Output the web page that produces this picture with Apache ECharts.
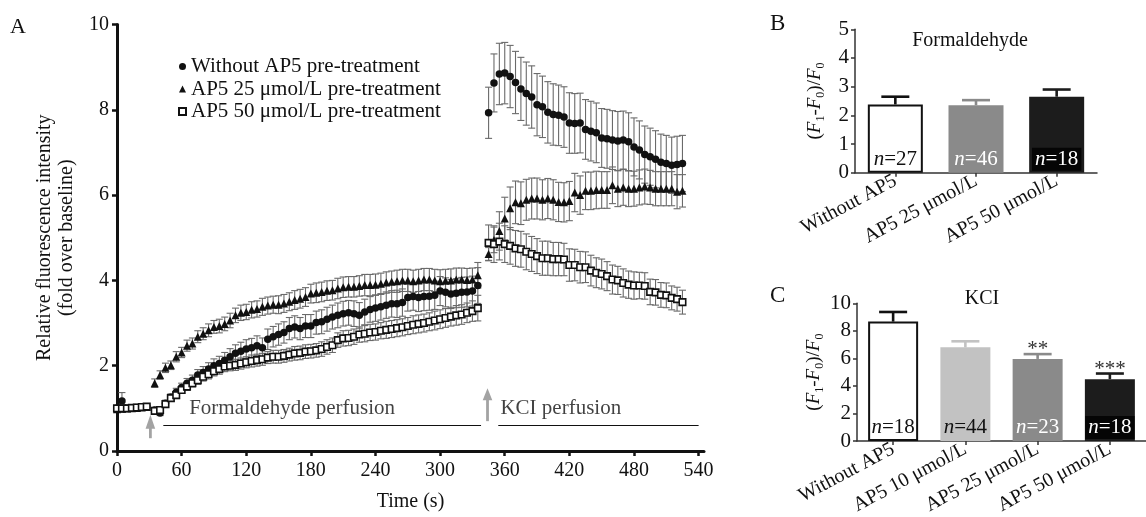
<!DOCTYPE html>
<html><head><meta charset="utf-8">
<script src="https://cdn.jsdelivr.net/npm/echarts@6/dist/echarts.min.js"></script>
<style>html,body{margin:0;padding:0;background:#fff}#c{width:1146px;height:517px}</style>
</head><body><div id="c"></div><script>
// ---------------- DATA ----------------
const baselineTime = [0, 4.6, 9.2, 13.8, 18.4, 23, 27.6];
const formTime = [35,40,45,50,55,60,65,70,75,80,85,90,95,100,105,110,115,120,125,130,135,140,145,150,155,160,165,170,175,180,185,190,195,200,205,210,215,220,225,230,235,240,245,250,255,260,265,270,275,280,285,290,295,300,305,310,315,320,325,330,335];
const kclTime = [345,350,355,360,365,370,375,380,385,390,395,400,405,410,415,420,425,430,435,440,445,450,455,460,465,470,475,480,485,490,495,500,505,510,515,520,525];

const seriesNames = ['Without AP5 pre-treatment', 'AP5 25 \u03bcmol/L pre-treatment', 'AP5 50 \u03bcmol/L pre-treatment'];

// Without AP5 (circles)
const ctrlBase = [1.0,1.17,1.0,1.0,1.02,1.03,1.04];
const ctrlBaseSem = [0.04,0.2,0.04,0.03,0.03,0.03,0.04];
const ctrlForm = [0.96,0.89,1.12,1.26,1.38,1.49,1.59,1.66,1.78,1.84,1.92,2.0,2.05,2.13,2.21,2.29,2.34,2.39,2.42,2.47,2.42,2.62,2.68,2.73,2.78,2.87,2.91,2.87,2.93,2.93,3.01,3.03,3.09,3.14,3.18,3.22,3.24,3.22,3.18,3.26,3.32,3.35,3.38,3.42,3.45,3.45,3.48,3.6,3.62,3.6,3.62,3.63,3.65,3.75,3.72,3.68,3.7,3.72,3.73,3.75,3.88];
const ctrlFormSem = [0.05,0.06,0.07,0.08,0.09,0.1,0.11,0.12,0.13,0.14,0.15,0.16,0.17,0.18,0.19,0.2,0.21,0.22,0.22,0.23,0.23,0.24,0.24,0.25,0.25,0.26,0.26,0.26,0.27,0.27,0.27,0.28,0.28,0.28,0.29,0.29,0.29,0.3,0.3,0.3,0.3,0.31,0.31,0.31,0.31,0.32,0.32,0.32,0.32,0.33,0.33,0.33,0.33,0.34,0.34,0.34,0.34,0.35,0.35,0.35,0.42];
const ctrlKcl = [7.93,8.63,8.84,8.86,8.78,8.64,8.49,8.38,8.3,8.12,8.07,7.94,7.89,7.87,7.83,7.69,7.68,7.69,7.54,7.5,7.46,7.34,7.32,7.29,7.27,7.29,7.25,7.13,7.06,6.95,6.9,6.84,6.77,6.74,6.7,6.72,6.74];
const ctrlKclSem = [0.6,0.68,0.72,0.72,0.73,0.73,0.74,0.74,0.73,0.73,0.72,0.72,0.72,0.71,0.71,0.71,0.7,0.7,0.7,0.7,0.7,0.69,0.69,0.69,0.69,0.68,0.68,0.68,0.68,0.67,0.67,0.67,0.66,0.66,0.66,0.66,0.66];

// AP5 25 umol/L (triangles)
const ap25Base = [0.98,0.99,1.0,1.0,1.01,1.02,1.03];
const ap25BaseSem = [0.03,0.03,0.03,0.03,0.03,0.03,0.03];
const ap25Form = [1.59,1.78,1.95,2.01,2.21,2.31,2.47,2.52,2.68,2.75,2.83,2.91,2.93,2.98,3.06,3.18,3.24,3.26,3.31,3.33,3.38,3.41,3.43,3.43,3.46,3.5,3.54,3.57,3.61,3.69,3.71,3.73,3.76,3.77,3.81,3.84,3.85,3.85,3.87,3.89,3.89,3.9,3.92,3.95,3.97,3.98,4.0,4.0,3.98,4.0,4.02,4.02,4.0,3.98,3.99,4.0,4.02,4.02,4.01,4.02,4.12];
const ap25FormSem = [0.1,0.1,0.11,0.1,0.12,0.12,0.13,0.13,0.14,0.14,0.15,0.15,0.16,0.16,0.17,0.17,0.18,0.18,0.19,0.19,0.2,0.2,0.2,0.21,0.21,0.21,0.22,0.22,0.22,0.22,0.23,0.23,0.23,0.23,0.24,0.24,0.24,0.24,0.24,0.25,0.25,0.25,0.25,0.25,0.25,0.26,0.26,0.26,0.26,0.26,0.26,0.26,0.26,0.27,0.27,0.27,0.27,0.27,0.27,0.27,0.3];
const ap25Kcl = [4.62,4.95,5.16,5.45,5.69,5.83,5.81,5.89,5.92,5.92,5.89,5.92,5.89,5.84,5.83,5.86,6.06,6.0,6.1,6.1,6.12,6.12,6.12,6.23,6.15,6.18,6.15,6.15,6.18,6.2,6.18,6.15,6.15,6.15,6.15,6.08,6.1];
const ap25KclSem = [0.15,0.3,0.45,0.5,0.5,0.5,0.5,0.48,0.48,0.48,0.47,0.47,0.47,0.46,0.46,0.46,0.45,0.45,0.44,0.44,0.44,0.43,0.43,0.43,0.42,0.42,0.42,0.41,0.41,0.41,0.4,0.4,0.4,0.4,0.4,0.4,0.38];

// AP5 50 umol/L (open squares)
const ap50Base = [1.0,1.0,1.0,1.01,1.02,1.03,1.04];
const ap50BaseSem = [0.03,0.03,0.03,0.03,0.03,0.03,0.03];
const ap50Form = [0.94,0.96,1.1,1.24,1.31,1.43,1.51,1.59,1.66,1.74,1.8,1.87,1.92,1.98,2.0,2.02,2.05,2.08,2.11,2.13,2.15,2.19,2.21,2.21,2.23,2.26,2.29,2.3,2.33,2.34,2.36,2.39,2.44,2.48,2.6,2.64,2.65,2.68,2.73,2.75,2.78,2.79,2.82,2.84,2.86,2.88,2.9,2.93,2.96,2.98,3.0,3.03,3.06,3.09,3.12,3.15,3.18,3.2,3.24,3.28,3.35];
const ap50FormSem = [0.04,0.05,0.06,0.07,0.08,0.08,0.09,0.09,0.1,0.1,0.11,0.11,0.12,0.12,0.12,0.13,0.13,0.13,0.14,0.14,0.14,0.14,0.15,0.15,0.15,0.15,0.16,0.16,0.16,0.16,0.16,0.17,0.17,0.17,0.17,0.18,0.18,0.18,0.18,0.19,0.19,0.19,0.19,0.2,0.2,0.2,0.2,0.2,0.21,0.21,0.21,0.21,0.22,0.22,0.22,0.22,0.23,0.23,0.23,0.24,0.3];
const ap50Kcl = [4.88,4.85,4.91,4.85,4.81,4.75,4.73,4.67,4.62,4.57,4.52,4.52,4.5,4.5,4.49,4.36,4.36,4.31,4.31,4.23,4.18,4.15,4.1,4.02,4.0,3.94,3.9,3.88,3.88,3.87,3.73,3.72,3.66,3.65,3.59,3.56,3.49];
const ap50KclSem = [0.42,0.43,0.43,0.43,0.43,0.42,0.42,0.42,0.41,0.41,0.4,0.4,0.39,0.39,0.38,0.38,0.37,0.37,0.36,0.36,0.35,0.35,0.34,0.34,0.33,0.33,0.32,0.32,0.31,0.31,0.3,0.3,0.29,0.29,0.28,0.28,0.28];

const timeTicks = [0,60,120,180,240,300,360,420,480,540];

// Panel B (formaldehyde)
const bCategories = ['Without AP5', 'AP5 25 \u03bcmol/L', 'AP5 50 \u03bcmol/L'];
const bMean = [2.38, 2.35, 2.65];
const bSem = [0.27, 0.18, 0.25];
const bN = [27, 46, 18];
const bSig = ['', '', ''];

// Panel C (KCl)
const cCategories = ['Without AP5', 'AP5 10 \u03bcmol/L', 'AP5 25 \u03bcmol/L', 'AP5 50 \u03bcmol/L'];
const cMean = [8.67, 6.8, 5.96, 4.49];
const cSem = [0.7, 0.44, 0.35, 0.41];
const cN = [18, 44, 23, 18];
const cSig = ['', '', '**', '***'];

// perfusion-onset arrows: [time, tail value, tip value]
const arrowMarks = [[31, 0.3, 0.85], [344, 0.7, 1.47]];

// ---------------- CHART ----------------
const FONT = '"Liberation Serif", "Times New Roman", serif';
const INK = '#111';
const allTime = baselineTime.concat(formTime, kclTime);
function pts(b, f, k) { const v = b.concat(f, k); return allTime.map((t, i) => [t, v[i]]); }
function errs(b, f, k, sb, sf, sk) {
  const v = b.concat(f, k), s = sb.concat(sf, sk);
  return allTime.map((t, i) => [t, v[i] - s[i], v[i] + s[i]]);
}

function renderErrA(params, api) {
  const t = api.value(0), lo = api.value(1), hi = api.value(2);
  const a = api.coord([t, lo]), b = api.coord([t, hi]);
  const cw = 3.5;
  const st = { stroke: '#6a6a6a', lineWidth: 1.1 };
  return { type: 'group', children: [
    { type: 'line', shape: { x1: a[0], y1: a[1], x2: b[0], y2: b[1] }, style: st },
    { type: 'line', shape: { x1: a[0] - cw, y1: a[1], x2: a[0] + cw, y2: a[1] }, style: st },
    { type: 'line', shape: { x1: b[0] - cw, y1: b[1], x2: b[0] + cw, y2: b[1] }, style: st }
  ]};
}

function renderArrow(params, api) {
  const t = api.value(0);
  const a = api.coord([t, api.value(1)]), b = api.coord([t, api.value(2)]);
  const headLen = params.dataIndex === 0 ? 14 : 12, hw = 4.8;
  const col = '#a3a3a3';
  return { type: 'group', children: [
    { type: 'line', shape: { x1: a[0], y1: a[1], x2: b[0], y2: b[1] + headLen - 1 }, style: { stroke: col, lineWidth: 2.8 } },
    { type: 'polygon', shape: { points: [[b[0], b[1]], [b[0] - hw, b[1] + headLen], [b[0] + hw, b[1] + headLen]] }, style: { fill: col } }
  ]};
}

function makeBarErr(colors, sig) {
  return function (params, api) {
    const i = api.value(0), m = api.value(1), hi = api.value(2);
    const a = api.coord([i, m]), b = api.coord([i, hi]);
    const cw = 14;
    const st = { stroke: colors[params.dataIndex], lineWidth: 2.6 };
    const ch = [
      { type: 'line', shape: { x1: a[0], y1: a[1], x2: b[0], y2: b[1] }, style: st },
      { type: 'line', shape: { x1: b[0] - cw, y1: b[1], x2: b[0] + cw, y2: b[1] }, style: st }
    ];
    const s = sig[params.dataIndex];
    if (s) ch.push({ type: 'text', style: { text: s, x: b[0], y: b[1] + 6, fill: '#333',
      font: '21px ' + FONT, align: 'center', verticalAlign: 'bottom', textAlign: 'center', textVerticalAlign: 'bottom' } });
    return { type: 'group', children: ch };
  };
}

const bColors = ['#ffffff', '#8a8a8a', '#1c1c1c'];
const bErrColors = ['#111111', '#8a8a8a', '#1c1c1c'];
const bLabelColors = ['#111', '#ffffff', '#ffffff'];
const cColors = ['#ffffff', '#c2c2c2', '#8a8a8a', '#1c1c1c'];
const cErrColors = ['#111111', '#c2c2c2', '#8a8a8a', '#1c1c1c'];
const cLabelColors = ['#111', '#111', '#ffffff', '#ffffff'];

function barData(means, colors, labelColors) {
  return means.map((v, i) => ({
    value: v,
    itemStyle: { color: colors[i], borderColor: i === 0 ? INK : colors[i], borderWidth: i === 0 ? 2 : 0 },
    label: { color: labelColors[i], backgroundColor: i === means.length - 1 ? '#050505' : 'transparent', padding: [1, 3] }
  }));
}

const yNameRich = {
  i: { fontFamily: FONT, fontStyle: 'italic', fontSize: 19, color: INK, lineHeight: 24 },
  s: { fontFamily: FONT, fontSize: 12, color: INK, verticalAlign: 'bottom', lineHeight: 24 }
};
const yNameText = '({i|F}{s|1}-{i|F}{s|0})/{i|F}{s|0}';

const smallAxisLine = { show: true, lineStyle: { color: '#333', width: 1.5 } };

const option = {
  animation: false,
  backgroundColor: '#fff',
  title: [
    { text: 'A', left: 10, top: 16, padding: 0, textStyle: { fontFamily: FONT, fontSize: 22, fontWeight: 'normal', color: INK } },
    { text: 'B', left: 770, top: 12, padding: 0, textStyle: { fontFamily: FONT, fontSize: 23, fontWeight: 'normal', color: INK } },
    { text: 'C', left: 770, top: 284, padding: 0, textStyle: { fontFamily: FONT, fontSize: 23, fontWeight: 'normal', color: INK } },
    { text: 'Formaldehyde', left: 970, top: 31, padding: 0, textAlign: 'center', textStyle: { fontFamily: FONT, fontSize: 20, fontWeight: 'normal', color: INK } },
    { text: 'KCI', left: 982, top: 289, padding: 0, textAlign: 'center', textStyle: { fontFamily: FONT, fontSize: 20, fontWeight: 'normal', color: INK } }
  ],
  legend: {
    orient: 'vertical', left: 173, top: 51, itemWidth: 7, itemHeight: 7, itemGap: 1.5,
    textStyle: { fontFamily: FONT, fontSize: 21, color: INK, lineHeight: 21 },
    data: seriesNames
  },
  grid: [
    { left: 117, top: 24.5, width: 587, height: 428.5 },
    { left: 855, top: 29.3, width: 242, height: 143.4 },
    { left: 857, top: 303.3, width: 292, height: 142.7 }
  ],
  xAxis: [
    { gridIndex: 0, type: 'value', min: 0, max: 545, interval: 60,
      axisLine: { show: true, lineStyle: { color: INK, width: 3 } },
      axisTick: { show: true, length: 5, lineStyle: { color: INK, width: 2.5 }, customValues: timeTicks },
      axisLabel: { customValues: timeTicks, fontFamily: FONT, fontSize: 20, color: INK, margin: 10 },
      splitLine: { show: false },
      name: 'Time (s)', nameLocation: 'middle', nameGap: 41,
      nameTextStyle: { fontFamily: FONT, fontSize: 20, color: INK } },
    { gridIndex: 1, type: 'category', data: bCategories,
      axisLine: smallAxisLine,
      axisTick: { show: true, alignWithLabel: true, length: 4, lineStyle: { color: '#333', width: 1.5 } },
      axisLabel: { interval: 0, rotate: 28, fontFamily: FONT, fontSize: 20, color: INK, margin: 7 } },
    { gridIndex: 2, type: 'category', data: cCategories,
      axisLine: smallAxisLine,
      axisTick: { show: true, alignWithLabel: true, length: 4, lineStyle: { color: '#333', width: 1.5 } },
      axisLabel: { interval: 0, rotate: 28, fontFamily: FONT, fontSize: 20, color: INK, margin: 7 } }
  ],
  yAxis: [
    { gridIndex: 0, type: 'value', min: 0, max: 10, interval: 2,
      axisLine: { show: true, lineStyle: { color: INK, width: 3 } },
      axisTick: { show: true, length: 5, lineStyle: { color: INK, width: 2.5 } },
      axisLabel: { fontFamily: FONT, fontSize: 20, color: INK, margin: 8 },
      splitLine: { show: false },
      name: 'Relative fluorescence intensity\n(fold over baseline)', nameLocation: 'middle', nameRotate: 90, nameGap: 38,
      nameTextStyle: { fontFamily: FONT, fontSize: 20, color: INK, lineHeight: 22 } },
    { gridIndex: 1, type: 'value', min: 0, max: 5, interval: 1,
      axisLine: smallAxisLine,
      axisTick: { show: true, length: 4, lineStyle: { color: '#333', width: 1.5 } },
      axisLabel: { fontFamily: FONT, fontSize: 21, color: INK, margin: 6 },
      splitLine: { show: false },
      name: yNameText, nameLocation: 'middle', nameRotate: 90, nameGap: 28,
      nameTextStyle: { fontFamily: FONT, fontSize: 19, color: INK, lineHeight: 24, rich: yNameRich } },
    { gridIndex: 2, type: 'value', min: 0, max: 10, interval: 2,
      axisLine: smallAxisLine,
      axisTick: { show: true, length: 4, lineStyle: { color: '#333', width: 1.5 } },
      axisLabel: { fontFamily: FONT, fontSize: 21, color: INK, margin: 6 },
      splitLine: { show: false },
      name: yNameText, nameLocation: 'middle', nameRotate: 90, nameGap: 29,
      nameTextStyle: { fontFamily: FONT, fontSize: 19, color: INK, lineHeight: 24, rich: yNameRich } }
  ],
  series: [
    // error bars, panel A
    { type: 'custom', name: 'errCtrl', xAxisIndex: 0, yAxisIndex: 0, silent: true, z: 2,
      renderItem: renderErrA, encode: { x: 0, y: [1, 2] },
      data: errs(ctrlBase, ctrlForm, ctrlKcl, ctrlBaseSem, ctrlFormSem, ctrlKclSem) },
    { type: 'custom', name: 'errAp25', xAxisIndex: 0, yAxisIndex: 0, silent: true, z: 2,
      renderItem: renderErrA, encode: { x: 0, y: [1, 2] },
      data: errs(ap25Base, ap25Form, ap25Kcl, ap25BaseSem, ap25FormSem, ap25KclSem) },
    { type: 'custom', name: 'errAp50', xAxisIndex: 0, yAxisIndex: 0, silent: true, z: 2,
      renderItem: renderErrA, encode: { x: 0, y: [1, 2] },
      data: errs(ap50Base, ap50Form, ap50Kcl, ap50BaseSem, ap50FormSem, ap50KclSem) },
    // markers
    { type: 'scatter', name: seriesNames[0], xAxisIndex: 0, yAxisIndex: 0, z: 4,
      symbol: 'circle', symbolSize: 7.5, itemStyle: { color: INK, opacity: 1 },
      data: pts(ctrlBase, ctrlForm, ctrlKcl) },
    { type: 'scatter', name: seriesNames[1], xAxisIndex: 0, yAxisIndex: 0, z: 4,
      symbol: 'triangle', symbolSize: 8, itemStyle: { color: INK, opacity: 1 },
      data: pts(ap25Base, ap25Form, ap25Kcl) },
    { type: 'scatter', name: seriesNames[2], xAxisIndex: 0, yAxisIndex: 0, z: 4,
      symbol: 'rect', symbolSize: 6.5, itemStyle: { color: '#fff', borderColor: INK, borderWidth: 1.6, opacity: 1 },
      data: pts(ap50Base, ap50Form, ap50Kcl) },
    // annotations (panel A)
    { type: 'scatter', name: 'annot', xAxisIndex: 0, yAxisIndex: 0, silent: true, z: 3,
      symbolSize: 0,
      data: [[67, 1.0, 'Formaldehyde perfusion'], [356, 1.0, 'KCI perfusion']],
      label: { show: true, position: 'right', distance: 0, formatter: p => p.value[2],
        fontFamily: FONT, fontSize: 21, color: INK },
      markLine: { silent: true, symbol: ['none', 'none'], label: { show: false },
        lineStyle: { color: INK, width: 1, type: 'solid' },
        data: [
          [{ coord: [43, 0.61] }, { coord: [338, 0.61] }],
          [{ coord: [354, 0.61] }, { coord: [540, 0.61] }]
        ] } },
    { type: 'custom', name: 'arrows', xAxisIndex: 0, yAxisIndex: 0, silent: true, z: 3,
      renderItem: renderArrow, encode: { x: 0, y: [1, 2] }, data: arrowMarks },
    // Panel B
    { type: 'bar', name: 'barB', xAxisIndex: 1, yAxisIndex: 1, barWidth: 55, z: 2,
      data: barData(bMean, bColors, bLabelColors),
      label: { show: true, position: 'insideBottom', distance: 2,
        formatter: p => '{i|n}=' + bN[p.dataIndex],
        fontFamily: FONT, fontSize: 21,
        rich: { i: { fontFamily: FONT, fontSize: 21, fontStyle: 'italic' } } } },
    { type: 'custom', name: 'errB', xAxisIndex: 1, yAxisIndex: 1, silent: true, z: 3,
      renderItem: makeBarErr(bErrColors, bSig), encode: { x: 0, y: [1, 2] },
      data: bMean.map((v, i) => [i, v, v + bSem[i]]) },
    // Panel C
    { type: 'bar', name: 'barC', xAxisIndex: 2, yAxisIndex: 2, barWidth: 50, z: 2,
      data: barData(cMean, cColors, cLabelColors),
      label: { show: true, position: 'insideBottom', distance: 2,
        formatter: p => '{i|n}=' + cN[p.dataIndex],
        fontFamily: FONT, fontSize: 21,
        rich: { i: { fontFamily: FONT, fontSize: 21, fontStyle: 'italic' } } } },
    { type: 'custom', name: 'errC', xAxisIndex: 2, yAxisIndex: 2, silent: true, z: 3,
      renderItem: makeBarErr(cErrColors, cSig), encode: { x: 0, y: [1, 2] },
      data: cMean.map((v, i) => [i, v, v + cSem[i]]) }
  ]
};

const chart = echarts.init(document.getElementById('c'), null, { renderer: 'canvas' });
chart.setOption(option);
</script></body></html>
